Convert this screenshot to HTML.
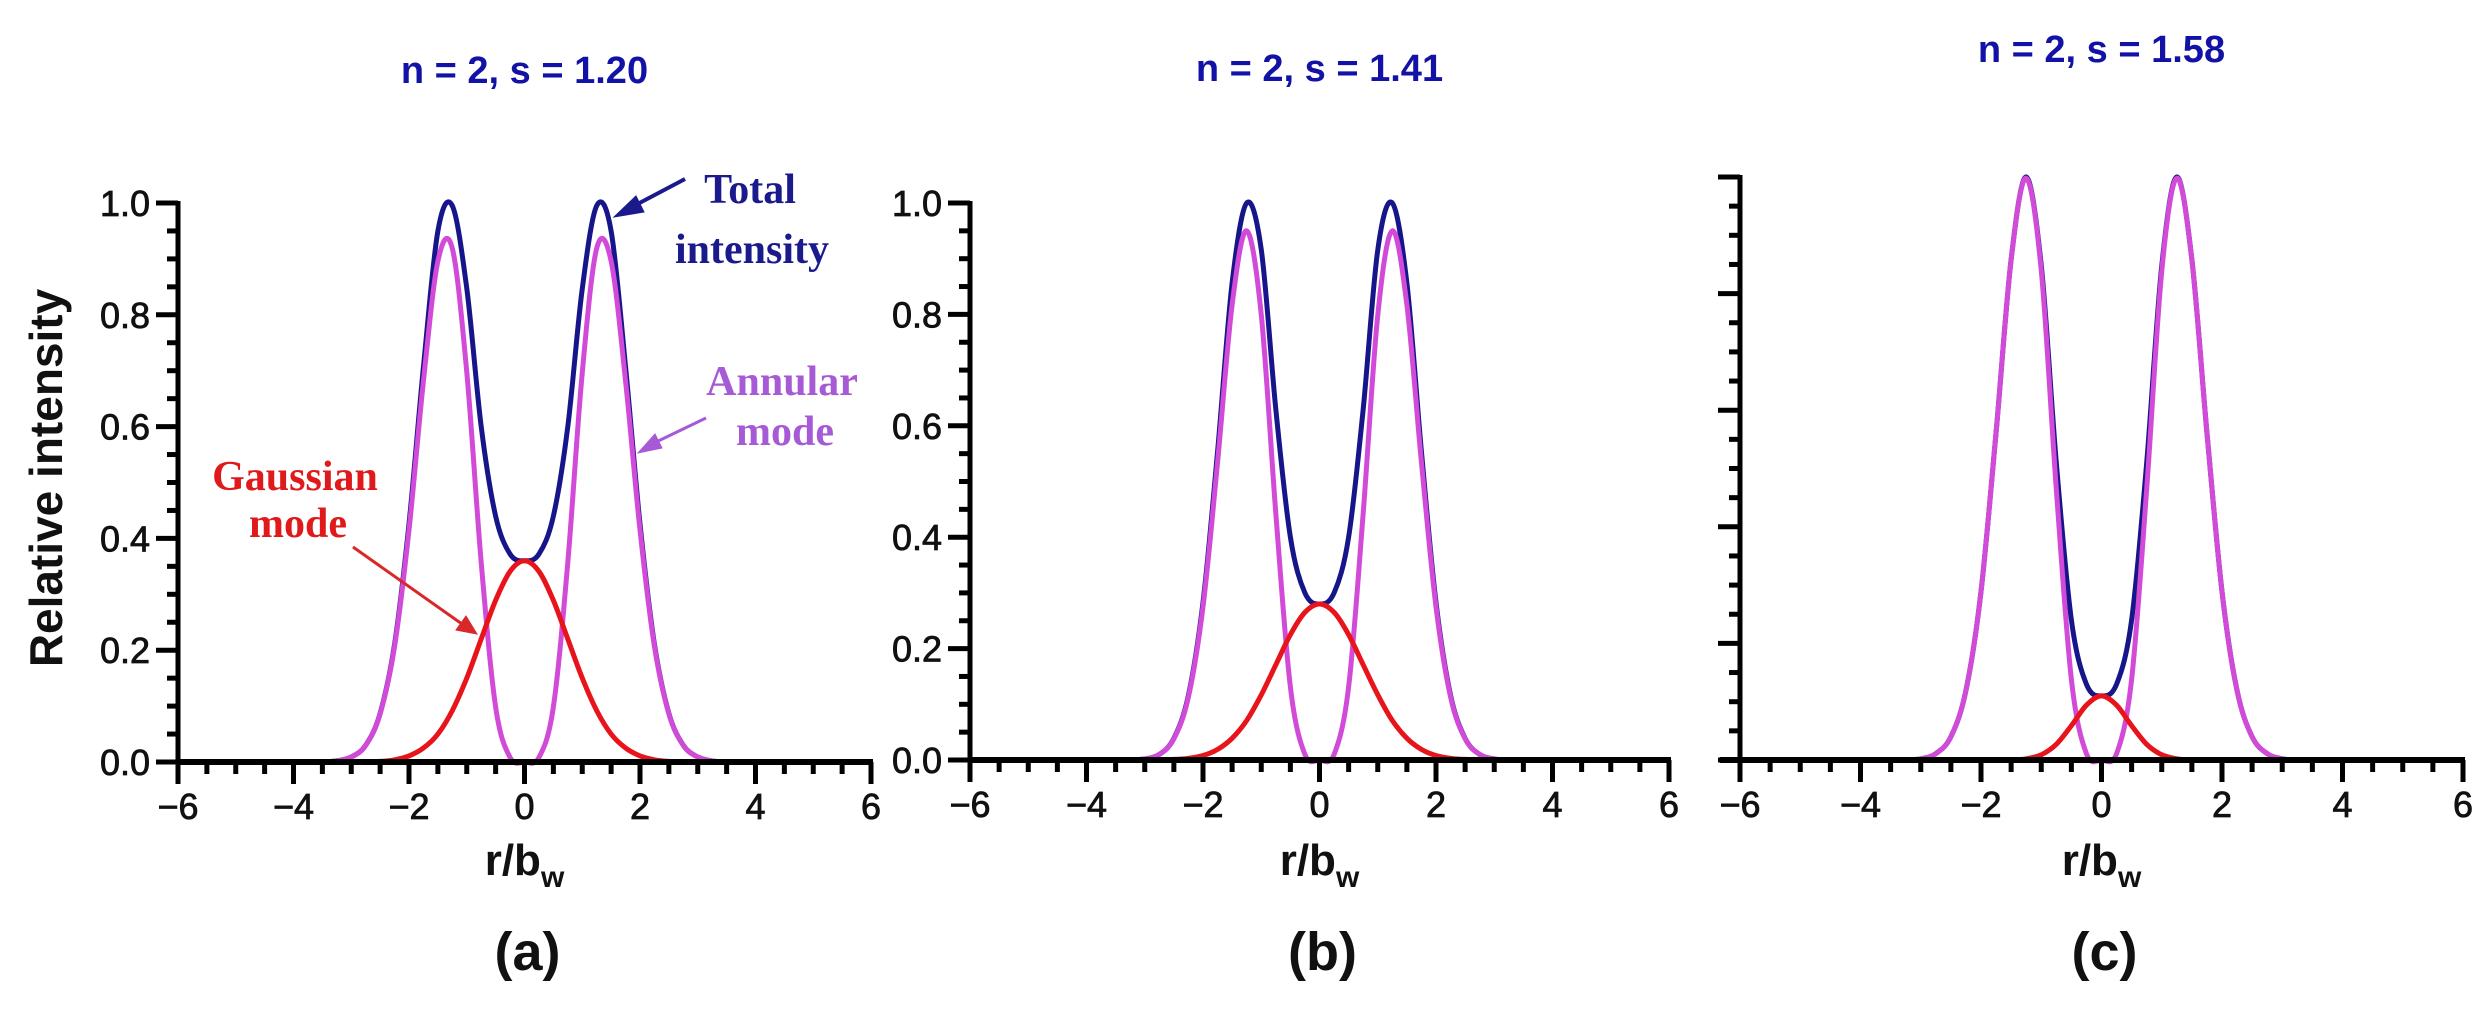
<!DOCTYPE html>
<html><head><meta charset="utf-8"><style>
html,body{margin:0;padding:0;background:#fff;}
svg{display:block;}
text{font-family:"Liberation Sans",Arial,sans-serif;}
text.serif{font-family:"Liberation Serif","Times New Roman",serif;}
</style></head><body>
<svg id="fig" width="2490" height="1009" viewBox="0 0 2490 1009" xmlns="http://www.w3.org/2000/svg">
<g id="plots"></g>
<g>
  <text class="serif" x="750" y="203" text-anchor="middle" font-weight="bold" font-size="42" fill="#1a1a8c">Total</text>
  <text class="serif" x="752" y="263" text-anchor="middle" font-weight="bold" font-size="42" fill="#1a1a8c">intensity</text>
  <text class="serif" x="782" y="395" text-anchor="middle" font-weight="bold" font-size="42" fill="#a65ad6">Annular</text>
  <text class="serif" x="785" y="445" text-anchor="middle" font-weight="bold" font-size="42" fill="#a65ad6">mode</text>
  <text class="serif" x="295" y="490" text-anchor="middle" font-weight="bold" font-size="42" fill="#e01a1a">Gaussian</text>
  <text class="serif" x="298" y="537" text-anchor="middle" font-weight="bold" font-size="42" fill="#e01a1a">mode</text>
  <g stroke="#1a1a8c" fill="#1a1a8c">
    <line x1="685" y1="179" x2="630" y2="208" stroke-width="4"/>
    <polygon points="614,217 636,196 644,212"/>
  </g>
  <g stroke="#a65ad6" fill="#a65ad6">
    <line x1="706" y1="418" x2="652" y2="444" stroke-width="3"/>
    <polygon points="638,453 655,434 662,448"/>
  </g>
  <g stroke="#d8282a" fill="#d8282a">
    <line x1="353" y1="547" x2="462" y2="624" stroke-width="3"/>
    <polygon points="477,634 456,630 466,616"/>
  </g>
</g>
</svg>
<script>
// sample positions r/b_w
const rValues = [-3.5,-3.25,-3,-2.75,-2.5,-2.25,-2,-1.75,-1.5,-1.25,-1,-0.75,-0.5,-0.25,0,0.25,0.5,0.75,1,1.25,1.5,1.75,2,2.25,2.5,2.75,3,3.25,3.5];
// panel (a) n=2, s=1.20
const annularA = [0,0.002,0.009,0.030,0.086,0.207,0.415,0.681,0.896,0.919,0.697,0.357,0.099,0.008,0,0.008,0.099,0.357,0.697,0.919,0.896,0.681,0.415,0.207,0.086,0.030,0.009,0.002,0];
const gaussA = [0,0,0,0,0.001,0.004,0.011,0.025,0.050,0.092,0.150,0.220,0.289,0.341,0.360,0.341,0.289,0.220,0.150,0.092,0.050,0.025,0.011,0.004,0.001,0,0,0,0];
const totalA = [0,0.002,0.009,0.030,0.087,0.211,0.426,0.706,0.950,0.995,0.847,0.600,0.440,0.372,0.360,0.372,0.440,0.600,0.847,0.995,0.950,0.706,0.426,0.211,0.087,0.030,0.009,0.002,0];
// panel (b) n=2, s=1.41
const annularB = [0,0,0.002,0.010,0.038,0.113,0.275,0.535,0.817,0.950,0.799,0.443,0.131,0.010,0,0.010,0.131,0.443,0.799,0.950,0.817,0.535,0.275,0.113,0.038,0.010,0.002,0,0];
const gaussB = [0,0,0,0,0.001,0.003,0.008,0.019,0.039,0.071,0.117,0.171,0.225,0.265,0.280,0.265,0.225,0.171,0.117,0.071,0.039,0.019,0.008,0.003,0.001,0,0,0,0];
const totalB = [0,0,0.002,0.010,0.039,0.116,0.283,0.554,0.856,1.000,0.916,0.630,0.400,0.300,0.280,0.300,0.400,0.630,0.916,1.000,0.856,0.554,0.283,0.116,0.039,0.010,0.002,0,0];
// panel (c) n=2, s=1.58
const annularC = [0,0,0.002,0.011,0.040,0.119,0.289,0.562,0.858,0.998,0.839,0.465,0.138,0.011,0,0.011,0.138,0.465,0.839,0.998,0.858,0.562,0.289,0.119,0.040,0.011,0.002,0,0];
const gaussC = [0,0,0,0,0,0,0,0,0,0.002,0.009,0.027,0.059,0.094,0.110,0.094,0.059,0.027,0.009,0.002,0,0,0,0,0,0,0,0,0];
const totalC = [0,0,0.002,0.011,0.040,0.119,0.289,0.562,0.858,1.000,0.848,0.510,0.240,0.130,0.110,0.130,0.240,0.510,0.848,1.000,0.858,0.562,0.289,0.119,0.040,0.011,0.002,0,0];
// axis ticks
const xTickLabels = ["\u22126","\u22124","\u22122","0","2","4","6"];
const xTickValues = [-6,-4,-2,0,2,4,6];
const yTickLabels = ["0.0","0.2","0.4","0.6","0.8","1.0"];
const yTickValues = [0,0.2,0.4,0.6,0.8,1.0];
const panelTitles = ["n = 2, s = 1.20","n = 2, s = 1.41","n = 2, s = 1.58"];
const panelLetters = ["(a)","(b)","(c)"];

const NS = "http://www.w3.org/2000/svg";
const root = document.getElementById('plots');
function mk(tag, attrs, parent){
  const e = document.createElementNS(NS, tag);
  for (const k in attrs) e.setAttribute(k, attrs[k]);
  (parent||root).appendChild(e);
  return e;
}
const panels = [
  {x0:178, x1:871, y0:762, y1:203, yLabels:true, titleY:83, annular:annularA, gauss:gaussA, total:totalA, axisStart:178},
  {x0:970, x1:1669, y0:760, y1:203, yLabels:true, titleY:81, annular:annularB, gauss:gaussB, total:totalB, axisStart:970},
  {x0:1740, x1:2463, y0:760, y1:177, yLabels:false, titleY:62, annular:annularC, gauss:gaussC, total:totalC, axisStart:1720}
];
function smoothPath(pts){
  let d = "M" + pts[0][0].toFixed(1) + "," + pts[0][1].toFixed(1);
  for (let i=0;i<pts.length-1;i++){
    const p0 = pts[Math.max(0,i-1)], p1 = pts[i], p2 = pts[i+1], p3 = pts[Math.min(pts.length-1,i+2)];
    const c1x = p1[0] + (p2[0]-p0[0])/6, c1y = p1[1] + (p2[1]-p0[1])/6;
    const c2x = p2[0] - (p3[0]-p1[0])/6, c2y = p2[1] - (p3[1]-p1[1])/6;
    d += " C" + c1x.toFixed(1)+","+c1y.toFixed(1)+" "+c2x.toFixed(1)+","+c2y.toFixed(1)+" "+p2[0].toFixed(1)+","+p2[1].toFixed(1);
  }
  return d;
}
panels.forEach((p, idx) => {
  const g = mk('g', {});
  
  
  const xs = v => p.x0 + (v + 6) / 12 * (p.x1 - p.x0);
  const ys = v => p.y0 - v * (p.y0 - p.y1);
  const cx = (p.x0 + p.x1) / 2;
  const t = mk('text', {x:cx, y:p.titleY, 'text-anchor':'middle', 'font-size':38, 'font-weight':'bold', fill:'#1212a6'}, g);
  t.textContent = panelTitles[idx];
  
  
  const series = [[p.total,'#16168a','total-intensity-line'],[p.annular,'#d24ad8','annular-mode-line'],[p.gauss,'#e8141b','gaussian-mode-line']];
  series.forEach(s => {
    const pts = rValues.map((r,i) => [xs(r), ys(s[0][i])]);
    const path = mk('path', {d:smoothPath(pts), fill:'none', stroke:s[1], 'stroke-width':5, 'stroke-linejoin':'round'}, g);
    
    
  });
  const ax = mk('g', {stroke:'#000'}, g);
  
  
  mk('line', {x1:p.axisStart, y1:p.y0, x2:p.x1+2, y2:p.y0, 'stroke-width':6}, ax);
  mk('line', {x1:p.x0, y1:p.y0+2, x2:p.x0, y2:p.y1-2, 'stroke-width':5}, ax);
  for (let k=0;k<=20;k++){
    const v = k*0.05;
    const major = k%4===0;
    mk('line', {x1:p.x0-(major?22:11), y1:ys(v), x2:p.x0, y2:ys(v), 'stroke-width':5}, ax);
  }
  for (let k=0;k<=24;k++){
    const v = -6 + k*0.5;
    const major = k%4===0;
    mk('line', {x1:xs(v), y1:p.y0, x2:xs(v), y2:p.y0+(major?22:12), 'stroke-width':5}, ax);
  }
  xTickValues.forEach((v,i) => {
    const l = mk('text', {x:xs(v), y:p.y0+57, 'text-anchor':'middle', 'font-size':36, fill:'#111', stroke:'#111', 'stroke-width':0.8}, g);
    l.textContent = xTickLabels[i];
    
    
  });
  if (p.yLabels){
    yTickValues.forEach((v,i) => {
      const l = mk('text', {x:p.x0-28, y:ys(v)+13, 'text-anchor':'end', 'font-size':36, fill:'#111', stroke:'#111', 'stroke-width':0.8}, g);
      l.textContent = yTickLabels[i];
      
      
    });
  }
  const xl = mk('text', {x:cx, y:875, 'text-anchor':'middle', 'font-size':44, 'font-weight':'bold', fill:'#111'}, g);
  xl.innerHTML = 'r/b<tspan font-size="30" dy="12">w</tspan>';
  
  
  const pl = mk('text', {x:cx+3, y:970, 'text-anchor':'middle', 'font-size':54, 'font-weight':'bold', fill:'#111'}, g);
  pl.textContent = panelLetters[idx];
  
  
});
const yt = mk('text', {x:0, y:0, transform:'translate(62,478) rotate(-90)', 'text-anchor':'middle', 'font-size':46, 'font-weight':'bold', fill:'#111'});
yt.textContent = 'Relative intensity';


</script>
</body></html>
